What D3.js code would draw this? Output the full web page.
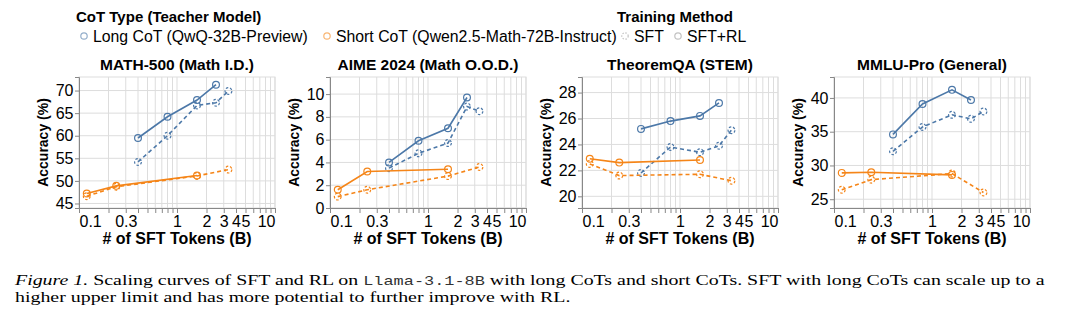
<!doctype html>
<html lang="en-US">
<head>
<meta charset="utf-8">
<title>Scaling curves of SFT and RL</title>
<script src="https://d3js.org/d3.v7.min.js"></script>
<style>
  html, body { margin: 0; padding: 0; background: #fff; }
  svg { display: block; }
  text { font-family: "Liberation Sans", Arial, Helvetica, sans-serif; fill: #000; }
  .caption { font-family: "Liberation Serif", "Times New Roman", serif; font-size: 15.3px; }
</style>
</head>
<body>
<svg id="chart" width="1080" height="323"></svg>
<script>
// SFT tokens (B) for each checkpoint
var longX     = [0.4, 0.8, 1.6, 2.5];
var longSftX  = [0.4, 0.8, 1.6, 2.5, 3.35];
var shortX    = [0.12, 0.24, 1.6];
var shortSftX = [0.12, 0.24, 1.6, 3.35];

var panelTitles = ["MATH-500 (Math I.D.)", "AIME 2024 (Math O.O.D.)", "TheoremQA (STEM)", "MMLU-Pro (General)"];
var yDomains = [[44, 73], [0, 11.5], [19.1, 29.2], [23.7, 43.1]];
var yTicks = [[45, 50, 55, 60, 65, 70], [0, 2, 4, 6, 8, 10], [20, 22, 24, 26, 28], [25, 30, 35, 40]];
var xLabels = [0.1, 0.3, 1, 2, 3, 4, 5, 10];
var xGrid = [0.1, 0.2, 0.3, 0.4, 0.5, 0.6, 0.7, 0.8, 0.9, 1, 2, 3, 4, 5, 6, 7, 8, 9, 10];

// accuracy (%)
var mathLongRL   = [59.5, 64.2, 67.9, 71.3];
var mathLongSFT  = [54.2, 60.0, 66.7, 67.3, 69.9];
var mathShortRL  = [47.2, 48.9, 51.2];
var mathShortSFT = [46.6, 48.7, 51.1, 52.5];

var aimeLongRL   = [4.0, 5.9, 7.0, 9.7];
var aimeLongSFT  = [3.5, 4.8, 5.7, 8.9, 8.5];
var aimeShortRL  = [1.6, 3.2, 3.4];
var aimeShortSFT = [1.0, 1.6, 2.8, 3.6];

var theoLongRL   = [25.2, 25.8, 26.2, 27.2];
var theoLongSFT  = [21.8, 23.8, 23.4, 23.9, 25.1];
var theoShortRL  = [22.9, 22.6, 22.8];
var theoShortSFT = [22.5, 21.6, 21.7, 21.2];

var mmluLongRL   = [34.6, 39.1, 41.2, 39.7];
var mmluLongSFT  = [32.1, 35.7, 37.5, 36.9, 38.0];
var mmluShortRL  = [28.9, 29.0, 28.6];
var mmluShortSFT = [26.4, 27.9, 28.8, 26.0];

var blue = "#4c78a8", orange = "#f58518";

var panels = [
  [mathLongSFT, mathShortSFT, mathLongRL, mathShortRL],
  [aimeLongSFT, aimeShortSFT, aimeLongRL, aimeShortRL],
  [theoLongSFT, theoShortSFT, theoLongRL, theoShortRL],
  [mmluLongSFT, mmluShortSFT, mmluLongRL, mmluShortRL]
];

function seriesOf(p) {
  return [
    {xs: longSftX,  ys: p[0], color: blue,   dash: "4,3"},
    {xs: shortSftX, ys: p[1], color: orange, dash: "4,3"},
    {xs: longX,     ys: p[2], color: blue,   dash: null},
    {xs: shortX,    ys: p[3], color: orange, dash: null}
  ];
}

var svg = d3.select("#chart");
var lefts = [79, 330, 582, 834];
var top0 = 77, w = 196, h = 131;

panels.forEach(function(p, i) {
  var g = svg.append("g").attr("transform", "translate(" + lefts[i] + "," + top0 + ")");
  var x = d3.scaleLog().domain([0.1, 10]).range([0, w]);
  var y = d3.scaleLinear().domain(yDomains[i]).range([h, 0]);

  // grid
  g.selectAll(".vg").data(xGrid).enter().append("line")
    .attr("x1", x).attr("x2", x).attr("y1", 0).attr("y2", h)
    .attr("stroke", "#ddd").attr("stroke-width", 1);
  g.selectAll(".hg").data(yTicks[i]).enter().append("line")
    .attr("x1", 0).attr("x2", w).attr("y1", y).attr("y2", y)
    .attr("stroke", "#ddd").attr("stroke-width", 1);
  g.append("rect").attr("width", w).attr("height", h)
    .attr("fill", "none").attr("stroke", "#ddd");

  // axes
  var xa = g.append("g").attr("transform", "translate(0," + h + ")")
    .call(d3.axisBottom(x).tickValues(xGrid).tickSize(5).tickPadding(3)
      .tickFormat(function(d) { return xLabels.indexOf(d) >= 0 ? d3.format("~g")(d) : ""; }));
  var ya = g.append("g")
    .call(d3.axisLeft(y).tickValues(yTicks[i]).tickSize(4).tickPadding(1.5));
  [xa, ya].forEach(function(a) {
    a.selectAll("path, line").attr("stroke", "#888");
    a.selectAll("text").attr("font-size", 16).attr("font-family", null).attr("fill", "#000");
  });
  // flush first / last x labels against the plot edges
  xa.selectAll(".tick text").filter(function(d) { return d === 0.1; }).attr("text-anchor", "start");
  xa.selectAll(".tick text").filter(function(d) { return d === 10; }).attr("text-anchor", "end");

  // titles
  g.append("text").attr("x", w / 2).attr("y", -7).attr("text-anchor", "middle")
    .attr("font-size", 15.5).attr("font-weight", "bold").text(panelTitles[i]);
  g.append("text").attr("x", w / 2).attr("y", h + 36).attr("text-anchor", "middle")
    .attr("font-size", 16).attr("font-weight", "bold").text("# of SFT Tokens (B)");
  g.append("text").attr("transform", "translate(-31," + (h / 2) + ") rotate(-90)")
    .attr("text-anchor", "middle").attr("font-size", 14).attr("font-weight", "bold")
    .text("Accuracy (%)");

  // lines + points
  var line = d3.line().x(function(d) { return x(d[0]); }).y(function(d) { return y(d[1]); });
  seriesOf(p).forEach(function(s) {
    var pts = d3.zip(s.xs, s.ys);
    g.append("path").datum(pts).attr("d", line)
      .attr("fill", "none").attr("stroke", s.color).attr("stroke-width", 1.6)
      .attr("stroke-dasharray", s.dash);
    g.selectAll(null).data(pts).enter().append("circle")
      .attr("cx", function(d) { return x(d[0]); }).attr("cy", function(d) { return y(d[1]); })
      .attr("r", 3.4).attr("fill", "none").attr("stroke", s.color).attr("stroke-width", 1.2)
      .attr("stroke-dasharray", s.dash ? "2.5,1.8" : null);
  });
});

// legends
var lg = svg.append("g");
lg.append("text").attr("x", 76).attr("y", 22).attr("font-size", 15).attr("font-weight", "bold")
  .text("CoT Type (Teacher Model)");
lg.append("text").attr("x", 617).attr("y", 22).attr("font-size", 15).attr("font-weight", "bold")
  .text("Training Method");
var legendItems = [
  {x: 84, label: "Long CoT (QwQ-32B-Preview)", color: blue, dash: null},
  {x: 327, label: "Short CoT (Qwen2.5-Math-72B-Instruct)", color: orange, dash: null},
  {x: 625, label: "SFT", color: "#999", dash: "1.5,1.5"},
  {x: 678, label: "SFT+RL", color: "#999", dash: null}
];
legendItems.forEach(function(it) {
  lg.append("circle").attr("cx", it.x).attr("cy", 36).attr("r", 3.2)
    .attr("fill", "none").attr("stroke", it.color).attr("stroke-width", 1.2)
    .attr("stroke-opacity", 0.6).attr("stroke-dasharray", it.dash);
  lg.append("text").attr("x", it.x + 9).attr("y", 41.5).attr("font-size", 15.8).text(it.label);
});

// caption (the source figure is stretched horizontally)
var cap = svg.append("g").attr("transform", "translate(15,0) scale(1.3,1)");
var l1 = cap.append("text").attr("class", "caption").attr("x", 0).attr("y", 285);
l1.append("tspan").attr("font-style", "italic").text("Figure 1.");
l1.append("tspan").text(" Scaling curves of SFT and RL on ");
l1.append("tspan").attr("font-family", "'Liberation Mono', 'Courier New', monospace").attr("font-size", 13).attr("fill", "#333").text("Llama-3.1-8B");
l1.append("tspan").text(" with long CoTs and short CoTs. SFT with long CoTs can scale up to a");
cap.append("text").attr("class", "caption").attr("x", 0).attr("y", 302)
  .text("higher upper limit and has more potential to further improve with RL.");
</script>
</body>
</html>
